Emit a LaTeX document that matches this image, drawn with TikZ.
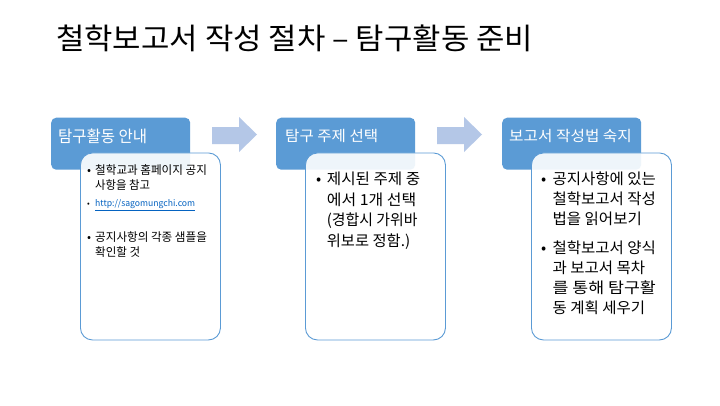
\documentclass[tikz,border=0pt]{standalone}
\usepackage{fontspec}
\setmainfont{Noto Sans CJK KR}
\definecolor{hdr}{RGB}{91,155,213}
\definecolor{arw}{RGB}{180,199,231}
\definecolor{lnk}{RGB}{5,99,193}
\newcommand{\bul}[1]{\makebox[#1][l]{•}}
\newcommand{\fw}[2]{\resizebox{#1pt}{\height}{#2}}
\begin{document}
\begin{tikzpicture}[x=1pt,y=-1pt,
  header/.style={fill=hdr, draw=none, rounded corners=5pt, anchor=north west,
    minimum width=139pt, minimum height=52pt, inner sep=0pt},
  content/.style={fill=white, fill opacity=0.9, draw=hdr, line width=0.9pt,
    rounded corners=12pt, anchor=north west, minimum width=140pt,
    minimum height=187pt, inner sep=0pt},
  htext/.style={text=white, anchor=base west, inner sep=0pt},
  body/.style={anchor=north west, inner sep=0pt, align=left},
  blockarrow/.style={fill=arw, draw=none}]
\useasboundingbox (0,0) rectangle (720,405);
\fill[white] (0,0) rectangle (720,405);

\node[anchor=base west, inner sep=0pt, font=\fontsize{29.5}{32}\selectfont] (title) at (56,49.5)
  {\fw{477}{철학보고서 작성 절차 – 탐구활동 준비}};

% step 1
\node[header] (h1) at (51,117.5) {};
\node[htext, font=\fontsize{16.3}{20}\selectfont] (h1t) at (58,142) {\fw{89}{탐구활동 안내}};
\node[content] (c1) at (80,152.5) {};
\node[body, font=\fontsize{11.8}{14.5}\selectfont] (b1) at (87,174.7-10.15)
  {\begin{tabular}{@{}l@{}l@{}}
   \bul{8pt} & \fw{111.7}{철학교과 홈페이지 공지}\\
   & \fw{55}{사항을 참고}\\[3pt]
   {\fontsize{8}{10}\selectfont\bul{7.5pt}} & {\fontsize{8.8}{10}\selectfont\color{lnk}\fw{100}{\underline{http://sagomungchi.com}}}\\[20.5pt]
   \bul{8pt} & \fw{111.7}{공지사항의 각종 샘플을}\\
   & \fw{45}{확인할 것}
   \end{tabular}};

% arrow 1
\fill[blockarrow] (212,127) -- (239,127) -- (239,117) -- (257,134.5)
  -- (239,152) -- (239,144) -- (212,144) -- cycle;

% step 2
\node[header] (h2) at (276,117.5) {};
\node[htext, font=\fontsize{14.8}{18}\selectfont] (h2t) at (285,141.3) {\fw{93}{탐구 주제 선택}};
\node[content] (c2) at (305,152.5) {};
\node[body, font=\fontsize{15.2}{20.5}\selectfont] (b2) at (316,184.3-14.35)
  {\begin{tabular}{@{}l@{}l@{}}
   \bul{10.7pt} & \fw{93.3}{제시된 주제 중}\\
   & \fw{89.3}{에서 1개 선택}\\
   & \fw{90.6}{(경합시 가위바}\\
   & \fw{83.3}{위보로 정함.)}
   \end{tabular}};

% arrow 2
\fill[blockarrow] (437,127) -- (464,127) -- (464,117) -- (482,134.5)
  -- (464,152) -- (464,144) -- (437,144) -- cycle;

% step 3
\node[header] (h3) at (502,117.5) {};
\node[htext, font=\fontsize{14.8}{18}\selectfont] (h3t) at (509,141.3) {\fw{122.7}{보고서 작성법 숙지}};
\node[content] (c3) at (531,152.5) {};
\node[body, font=\fontsize{15.2}{20}\selectfont] (b3) at (541,184.3-14)
  {\begin{tabular}{@{}l@{}l@{}}
   \bul{11.3pt} & \fw{103.4}{공지사항에 있는}\\
   & \fw{103.4}{철학보고서 작성}\\
   & \fw{89.4}{법을 읽어보기}\\[8.5pt]
   \bul{11.3pt} & \fw{103.4}{철학보고서 양식}\\
   & \fw{92.7}{과 보고서 목차}\\
   & \fw{103.4}{를 통해 탐구활}\\
   & \fw{92.7}{동 계획 세우기}
   \end{tabular}};
\end{tikzpicture}
\end{document}
